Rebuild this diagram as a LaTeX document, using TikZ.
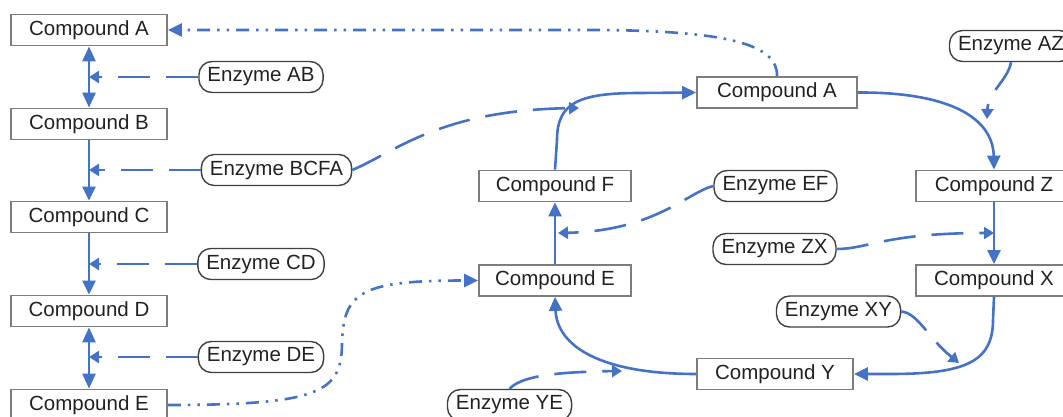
\documentclass[tikz,border=0pt]{standalone}
\usepackage{fontspec}
\setmainfont{Liberation Sans}
\usetikzlibrary{arrows.meta}
\definecolor{flow}{RGB}{68,114,196}
\definecolor{boxline}{RGB}{125,125,125}
\definecolor{enzline}{RGB}{64,64,64}
\definecolor{ink}{RGB}{34,34,34}
\tikzset{
  compound/.style={draw=boxline, line width=1.8pt, fill=white, minimum width=156pt,
    minimum height=31pt, inner sep=0pt, text=ink, font=\fontsize{20.5}{24}\selectfont},
  enzyme/.style={draw=enzline, line width=1.4pt, fill=white, rounded corners=13pt,
    minimum height=31pt, inner xsep=8.5pt, inner ysep=0pt, text=ink,
    font=\fontsize{20.5}{24}\selectfont},
  tip/.style={-{Triangle[length=14pt,width=13pt]}},
  both/.style={{Triangle[length=15pt,width=13pt]}-{Triangle[length=15pt,width=13pt]}},
  ctip/.style={-{Triangle[length=10pt,width=12pt]}},
  react/.style={flow, line width=2.6pt},
  catal/.style={flow, line width=2.6pt, dash pattern=on 32pt off 16pt},
  transfer/.style={flow, line width=2.6pt,
    dash pattern=on 13pt off 7pt on 2.5pt off 7pt on 2.5pt off 7pt},
}
\begin{document}
\begin{tikzpicture}[x=1pt,y=-1pt]
\useasboundingbox (0,0) rectangle (1063,417);

% linear pathway on the left
\node[compound] (caL) at (89,30) {Compound A};
\node[compound] (cbL) at (89,124) {Compound B};
\node[compound] (ccL) at (89,217) {Compound C};
\node[compound] (cdL) at (89,311) {Compound D};
\node[compound] (ceL) at (89,405) {Compound E};

\node[enzyme] (ab)   at (261,77)    {Enzyme AB};
\node[enzyme] (bcfa) at (276.5,170) {Enzyme BCFA};
\node[enzyme] (cd)   at (261,264)   {Enzyme CD};
\node[enzyme] (de)   at (261,357)   {Enzyme DE};

% cycle on the right
\node[compound, minimum width=160pt] (caR) at (777,92.5) {Compound A};
\node[compound, minimum width=152pt] (cf)  at (555,186)  {Compound F};
\node[compound, minimum width=152pt] (ceR) at (555,280.5) {Compound E};
\node[compound] (cz) at (994,186)   {Compound Z};
\node[compound] (cx) at (994,280.5) {Compound X};
\node[compound] (cy) at (775,374)   {Compound Y};

\node[enzyme] (az) at (1011,46)    {Enzyme AZ};
\node[enzyme] (ef) at (775.5,186)  {Enzyme EF};
\node[enzyme] (zx) at (774.5,249)  {Enzyme ZX};
\node[enzyme] (xy) at (838.5,311.5) {Enzyme XY};
\node[enzyme] (ye) at (509.5,405)  {Enzyme YE};

% reaction arrows, left column
\draw[react, both] (caL.south) -- (cbL.north);
\draw[react, tip] (cbL.south) -- (ccL.north);
\draw[react, tip] (ccL.south) -- (cdL.north);
\draw[react, both] (cdL.south) -- (ceL.north);

% enzymes acting on the left column
\draw[catal, ctip] (ab.west) -- (caL.south |- ab.west);
\draw[catal, ctip] (bcfa.west) -- (caL.south |- bcfa.west);
\draw[catal, ctip] (cd.west) -- (caL.south |- cd.west);
\draw[catal, ctip] (de.west) -- (caL.south |- de.west);

% links between the two parts
\draw[transfer, tip] (ceL.east) .. controls (320,405) and (341,392) .. (342,345)
  .. controls (343,292) and (360,280.5) .. (ceR.west);
\draw[transfer, tip] (caR.north) .. controls (778,45) and (730,31) .. (600,30) -- (caL.east);

% reactions of the cycle
\draw[react, tip] (ceR.north) -- (cf.south);
\draw[react, tip] (cf.north) -- (557,140) .. controls (557,102) and (580,93) .. (640,93) -- (caR.west);
\draw[react, tip] (caR.east) .. controls (950,92) and (993,118) .. (cz.north);
\draw[react, tip] (cz.south) -- (cx.north);
\draw[react, tip] (cx.south) -- (993,320) .. controls (993,362) and (965,374) .. (890,374) -- (cy.east);
\draw[react, tip] (cy.west) .. controls (600,374) and (557,346) .. (ceR.south);

% enzymes acting on the cycle
\coordinate (tBCFA) at (579,108);
\coordinate (tEF) at (558,233);
\coordinate (tAZ) at (987,119);
\coordinate (tZX) at (994,233);
\coordinate (tXY) at (959,363);
\coordinate (tYE) at (622,371);
\draw[catal, ctip] (bcfa.east) .. controls (395,152) and (440,110) .. (tBCFA);
\draw[catal, ctip] (ef.west) .. controls (688,192) and (655,231) .. (tEF);
\draw[catal, ctip] (az.south) .. controls (1008,80) and (988,92) .. (tAZ);
\draw[catal, ctip] (zx.east) .. controls (868,249) and (885,233) .. (tZX);
\draw[catal, ctip] (xy.east) .. controls (918,313) and (928,338) .. (tXY);
\draw[catal, ctip] (ye.north) .. controls (520,378) and (545,372) .. (tYE);
\end{tikzpicture}
\end{document}
